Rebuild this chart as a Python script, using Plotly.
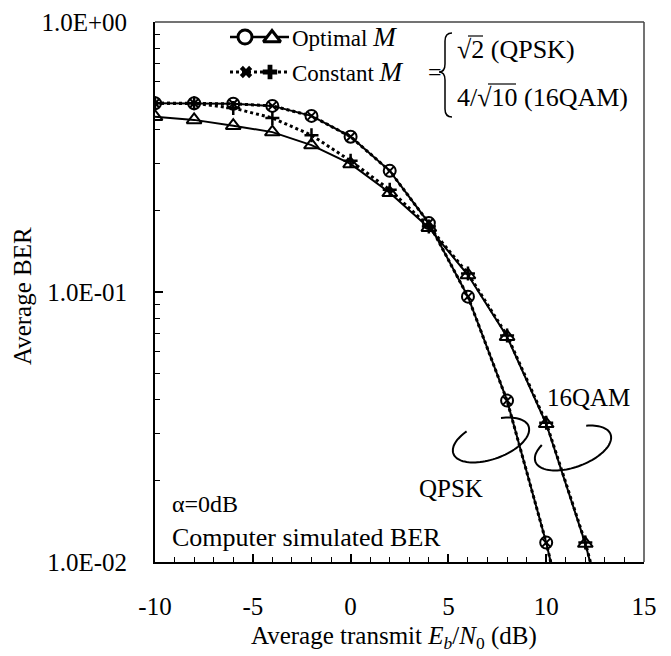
import numpy as np
import plotly.graph_objects as go

# ---------------- data ----------------
snr_qpsk = [-10, -8, -6, -4, -2, 0, 2, 4, 6, 8, 10, 12]
ber_qpsk_opt = [0.500, 0.500, 0.498, 0.489, 0.449, 0.376, 0.281, 0.180, 0.0961, 0.0396, 0.0118, 0.0028]
ber_qpsk_const = [0.500, 0.500, 0.498, 0.489, 0.449, 0.376, 0.281, 0.180, 0.0961, 0.0396, 0.0118, 0.0028]

snr_16qam = [-10, -8, -6, -4, -2, 0, 2, 4, 6, 8, 10, 12, 14]
ber_16qam_opt = [0.446, 0.434, 0.413, 0.391, 0.350, 0.298, 0.233, 0.173, 0.1156, 0.0683, 0.0325, 0.0117, 0.0032]
ber_16qam_const = [0.500, 0.500, 0.480, 0.441, 0.381, 0.306, 0.239, 0.175, 0.117, 0.069, 0.0328, 0.0118, 0.0033]

y_tickvals = [0.01, 0.1, 1.0]
y_ticktext = ["1.0E-02", "1.0E-01", "1.0E+00"]
x_tickvals = [-10, -5, 0, 5, 10, 15]
x_ticktext = ["-10", "-5", "0", "5", "10", "15"]

FONT = "Liberation Serif"
BLACK = "#000000"

# plot-area pixel geometry
L, R, T, B = 155, 644, 22, 562
W, H = 671, 656


def PX(x):
    return (x - L) / (R - L)


def PY(y):
    return (B - y) / (B - T)


fig = go.Figure()

# ---------------- curves ----------------
fig.add_trace(go.Scatter(x=snr_qpsk, y=ber_qpsk_opt, mode="lines+markers",
                         line=dict(color=BLACK, width=2),
                         marker=dict(symbol="circle-open", size=12, color=BLACK, line=dict(width=2)),
                         showlegend=False))
fig.add_trace(go.Scatter(x=snr_16qam, y=ber_16qam_opt, mode="lines+markers",
                         line=dict(color=BLACK, width=2),
                         marker=dict(symbol="triangle-up-open", size=13, color=BLACK, line=dict(width=2)),
                         showlegend=False))
fig.add_trace(go.Scatter(x=snr_qpsk, y=ber_qpsk_const, mode="lines+markers",
                         line=dict(color=BLACK, width=3, dash="dot"),
                         marker=dict(symbol="x-thin", size=8, color=BLACK, line=dict(width=2, color=BLACK)),
                         showlegend=False))
fig.add_trace(go.Scatter(x=snr_16qam, y=ber_16qam_const, mode="lines+markers",
                         line=dict(color=BLACK, width=3, dash="dot"),
                         marker=dict(symbol="cross-thin", size=10, color=BLACK, line=dict(width=2.5, color=BLACK)),
                         showlegend=False))

# ---------------- legend samples on a pixel overlay axis ----------------
ly1, ly2 = 37, 72
fig.add_trace(go.Scatter(x=[230, 289], y=[ly1, ly1], mode="lines", xaxis="x2", yaxis="y2",
                         line=dict(color=BLACK, width=2.5), showlegend=False, cliponaxis=False))
fig.add_trace(go.Scatter(x=[245], y=[ly1], mode="markers", xaxis="x2", yaxis="y2",
                         marker=dict(symbol="circle", size=14, color="white", line=dict(width=3, color=BLACK)),
                         showlegend=False, cliponaxis=False))
fig.add_trace(go.Scatter(x=[272], y=[ly1 + 1], mode="markers", xaxis="x2", yaxis="y2",
                         marker=dict(symbol="triangle-up", size=15, color="white", line=dict(width=3, color=BLACK)),
                         showlegend=False, cliponaxis=False))
fig.add_trace(go.Scatter(x=[230, 289], y=[ly2, ly2], mode="lines", xaxis="x2", yaxis="y2",
                         line=dict(color=BLACK, width=3, dash="dot"), showlegend=False, cliponaxis=False))
fig.add_trace(go.Scatter(x=[246], y=[ly2], mode="markers", xaxis="x2", yaxis="y2",
                         marker=dict(symbol="x", size=11, color=BLACK, line=dict(width=0)),
                         showlegend=False, cliponaxis=False))
fig.add_trace(go.Scatter(x=[270], y=[ly2], mode="markers", xaxis="x2", yaxis="y2",
                         marker=dict(symbol="cross", size=12, color=BLACK, line=dict(width=0)),
                         showlegend=False, cliponaxis=False))

shapes = []
# top / right frame (thinner, grey)
shapes.append(dict(type="line", xref="paper", yref="paper", x0=0, x1=1, y0=1, y1=1,
                   line=dict(color="#444444", width=1.5)))
shapes.append(dict(type="line", xref="paper", yref="paper", x0=1, x1=1, y0=0, y1=1,
                   line=dict(color="#444444", width=1.5)))

# brace
brace = ("M 452 33 Q 445 33 445 41 L 445 64 Q 445 72 439 72 "
         "Q 445 72 445 80 L 445 109 Q 445 117 452 117")
shapes.append(dict(type="path", xref="x2", yref="y2", path=brace, line=dict(color=BLACK, width=1.5)))

# overlines of the square roots
shapes.append(dict(type="line", xref="x2", yref="y2", x0=468, x1=483, y0=36, y1=36,
                   line=dict(color=BLACK, width=1.2)))
shapes.append(dict(type="line", xref="x2", yref="y2", x0=488, x1=516, y0=84, y1=84,
                   line=dict(color=BLACK, width=1.2)))


def loop_path(cx, cy, a, b, tilt_deg, t1, t2, n=80):
    ph = np.radians(tilt_deg)
    ts = np.radians(np.linspace(t1, t2, n))
    u = a * np.cos(ts)
    v = b * np.sin(ts)
    xs = cx + u * np.cos(ph) - v * np.sin(ph)
    ys = cy - (u * np.sin(ph) + v * np.cos(ph))
    return "M " + " L ".join(f"{x:.1f} {y:.1f}" for x, y in zip(xs, ys))


shapes.append(dict(type="path", xref="x2", yref="y2",
                   path=loop_path(491, 440, 40, 19, 20, 120, 425), line=dict(color=BLACK, width=2)))
shapes.append(dict(type="path", xref="x2", yref="y2",
                   path=loop_path(573, 448, 40, 19, 20, 135, 420), line=dict(color=BLACK, width=2)))

ann = []


def px_text(x, y, text, size=24, xanchor="left", **kw):
    ann.append(dict(x=PX(x), y=PY(y), xref="paper", yref="paper", text=text, showarrow=False,
                    xanchor=xanchor, yanchor="middle", font=dict(family=FONT, size=size, color=BLACK), **kw))


px_text(290, ly1, "Optimal <span style='font-size:27px'><i>M</i></span>", size=23)
px_text(290, ly2, "Constant <span style='font-size:27px'><i>M</i></span>", size=23)
px_text(426, ly2, "=", size=24)
px_text(455, 50, "√2 (QPSK)", size=26)
px_text(455, 98, "4/√10 (16QAM)", size=26)
px_text(170, 504, "α=0dB", size=24)
px_text(170, 537, "Computer simulated BER", size=26)
px_text(451, 488, "QPSK", size=25, xanchor="center")
px_text(588, 397, "16QAM", size=25, xanchor="center")
px_text(22, 296, "Average BER", size=25, xanchor="center", textangle=-90)
px_text(394, 637, "Average transmit <i>E</i><sub><i>b</i></sub>/<i>N</i><sub>0</sub> (dB)", size=25,
        xanchor="center")

fig.update_layout(
    width=W, height=H,
    margin=dict(l=L, r=W - R, t=T, b=H - B, autoexpand=False),
    paper_bgcolor="white", plot_bgcolor="white",
    showlegend=False,
    shapes=shapes, annotations=ann,
    xaxis=dict(range=[-10, 15], tickvals=x_tickvals, ticktext=x_ticktext, ticks="inside", ticklen=8,
               tickwidth=1.5, automargin=False,
               tickcolor=BLACK, showline=True, linecolor=BLACK, linewidth=2, showgrid=False,
               zeroline=False, ticklabelstandoff=21,
               tickfont=dict(family=FONT, size=25, color=BLACK),
               minor=dict(dtick=1, ticks="inside", ticklen=5, tickwidth=1.2, tickcolor=BLACK, showgrid=False)),
    yaxis=dict(type="log", range=[-2, 0], tickvals=y_tickvals, ticktext=y_ticktext, ticks="inside",
               ticklen=8, tickwidth=1.5, tickcolor=BLACK, showline=True, linecolor=BLACK, linewidth=2,
               showgrid=False, zeroline=False, ticklabelstandoff=21, automargin=False,
               tickfont=dict(family=FONT, size=25, color=BLACK),
               minor=dict(tickvals=[0.02, 0.03, 0.04, 0.05, 0.06, 0.07, 0.08, 0.09,
                                    0.2, 0.3, 0.4, 0.5, 0.6, 0.7, 0.8, 0.9],
                          ticks="inside", ticklen=5, tickwidth=1.2, tickcolor=BLACK, showgrid=False)),
    xaxis2=dict(overlaying="x", range=[L, R], visible=False, fixedrange=True, automargin=False),
    yaxis2=dict(overlaying="y", range=[B, T], visible=False, fixedrange=True, automargin=False),
)

fig.write_html("out.html", config={"displayModeBar": False},
               post_script="document.body.style.margin='0px';")
